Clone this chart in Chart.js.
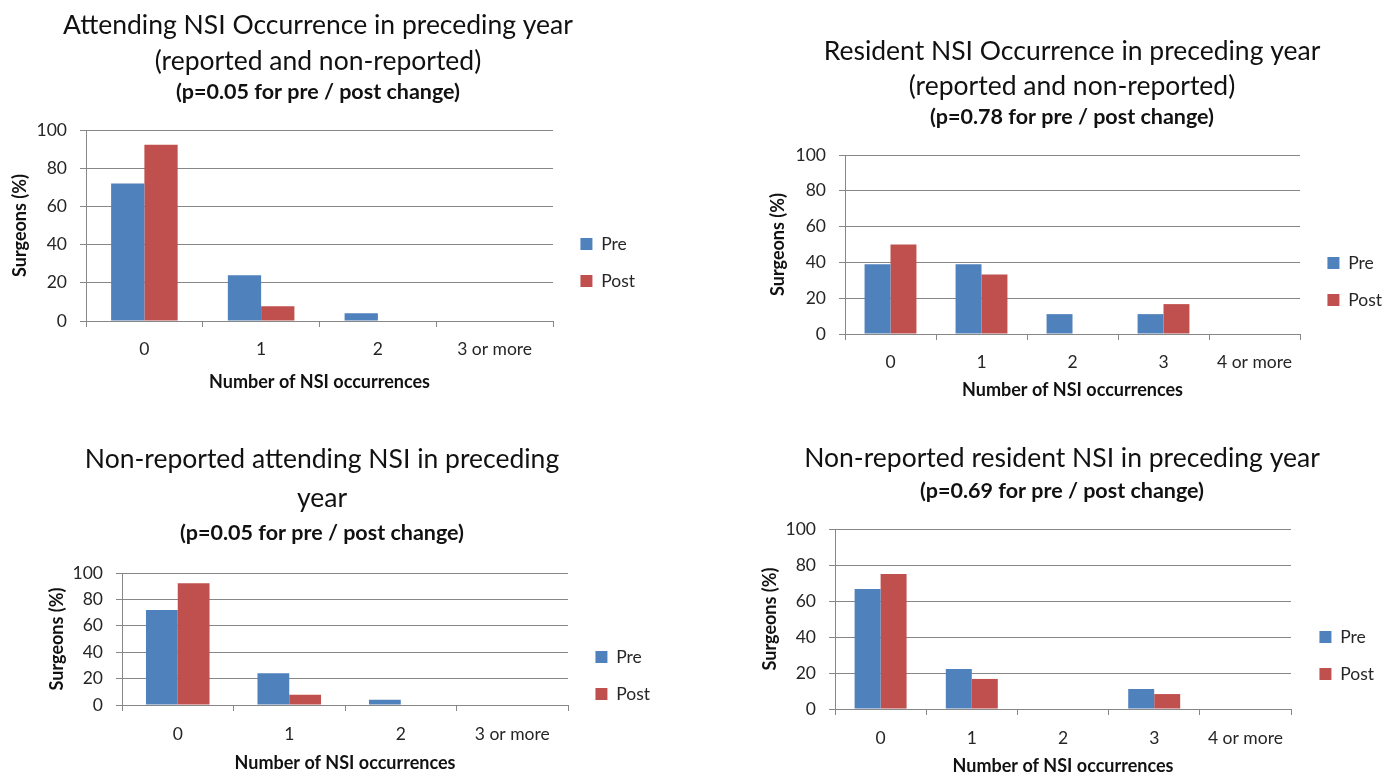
<!DOCTYPE html>
<html>
<head>
<meta charset="utf-8">
<title>NSI occurrence before and after</title>
<script src="https://cdn.jsdelivr.net/npm/chart.js@4.4.1/dist/chart.umd.min.js"></script>
<style>
  html, body { margin: 0; padding: 0; background: #ffffff; }
  #page { position: relative; width: 1384px; height: 774px; overflow: hidden; background: #ffffff; }
  #page canvas { position: absolute; }
</style>
</head>
<body>
<div id="page">
  <canvas id="attendingAll"></canvas>
  <canvas id="residentAll"></canvas>
  <canvas id="attendingNonReported"></canvas>
  <canvas id="residentNonReported"></canvas>
</div>
<script>
// Category labels (number of needle-stick injuries in the preceding year)
const attendingCategories = ['0', '1', '2', '3 or more'];
const residentCategories = ['0', '1', '2', '3', '4 or more'];

// Series labels
const seriesLabels = ['Pre', 'Post'];

// Surgeons (%) - attending, reported and non-reported
const attendingAllPre = [72, 24, 4, 0];
const attendingAllPost = [92.3, 7.7, 0, 0];

// Surgeons (%) - resident, reported and non-reported
const residentAllPre = [38.9, 38.9, 11.1, 11.1, 0];
const residentAllPost = [50, 33.3, 0, 16.7, 0];

// Surgeons (%) - attending, non-reported
const attendingNonRepPre = [72, 24, 4, 0];
const attendingNonRepPost = [92.3, 7.7, 0, 0];

// Surgeons (%) - resident, non-reported
const residentNonRepPre = [66.7, 22.2, 0, 11.1, 0];
const residentNonRepPost = [75, 16.7, 0, 8.3, 0];

// Value axis ticks
const yMin = 0, yMax = 100, yStep = 20;

// Text
const yAxisTitle = 'Surgeons (%)';
const xAxisTitle = 'Number of NSI occurrences';

const FONT = 'Lato';
const TITLE_SIZE = 26.5;
const P_SIZE = 21.5;
const TICK_SIZE = 17.5;
const AXIS_TITLE_SIZE = 18;
const LEGEND_SIZE = 17.5;
const PRE_COLOR = '#4F81BD';
const POST_COLOR = '#C0504D';
const AXIS_COLOR = '#878787';
const TEXT_COLOR = '#111111';
const TICK_COLOR = '#262626';

function textWidth(text, font) {
  const ctx = document.createElement('canvas').getContext('2d');
  ctx.font = font;
  return ctx.measureText(text).width;
}

// g: page geometry of one panel (plot box, text centres, legend position)
function buildPanel(id, categories, pre, post, titleLines, pText, g) {
  const box = 12, itemH = Math.max(LEGEND_SIZE, box), pad = 37 - itemH;
  const colW = box + LEGEND_SIZE / 2 +
    Math.max(...seriesLabels.map(t => textWidth(t, LEGEND_SIZE + 'px ' + FONT)));
  const legendW = pad + colW + 10;
  const right = g.sqL + colW + 10;
  const left = Math.round(2 * g.titleX - right);
  const width = Math.round(right - left);
  const LH = g.titleLH;
  const top = Math.round(g.title1Y - LH / 2);
  const titleBottom = top + titleLines.length * LH;
  const subLH = 26;
  const subTop = Math.max(0, g.pY - subLH / 2 - titleBottom);
  const subBottom = g.plotT - (titleBottom + subTop + subLH);
  const axisLH = AXIS_TITLE_SIZE * 1.2;
  const bottom = g.xTitleY + axisLH / 2 + 3;
  const height = Math.round(bottom - top);
  const yW = g.plotL - left;
  const xH = (top + height) - g.plotB;
  const gapW = Math.max(0, (left + width) - g.plotR - legendW);
  const yTitlePad = g.yTitleX - left - axisLH / 2;
  const legendTitleH = g.preY - top - pad - itemH / 2;
  const xTickPad = g.xLabelY - g.plotB - 6 - TICK_SIZE * 0.55;

  const canvas = document.getElementById(id);
  canvas.width = width;
  canvas.height = height;
  canvas.style.left = left + 'px';
  canvas.style.top = top + 'px';

  return new Chart(canvas, {
    type: 'bar',
    data: {
      labels: categories,
      datasets: [
        { label: seriesLabels[0], data: pre, backgroundColor: PRE_COLOR, borderWidth: 0 },
        { label: seriesLabels[1], data: post, backgroundColor: POST_COLOR, borderWidth: 0 }
      ]
    },
    options: {
      responsive: false,
      animation: false,
      events: [],
      layout: { padding: 0 },
      datasets: { bar: { categoryPercentage: 0.57, barPercentage: 1.0 } },
      scales: {
        x: {
          grid: { drawOnChartArea: false, drawTicks: true, tickLength: 6, color: AXIS_COLOR, lineWidth: 1 },
          border: { display: true, color: AXIS_COLOR, width: 1 },
          ticks: { color: TICK_COLOR, font: { family: FONT, size: TICK_SIZE }, padding: xTickPad, maxRotation: 0 },
          title: { display: true, text: xAxisTitle, color: TEXT_COLOR,
                   font: { family: FONT, size: AXIS_TITLE_SIZE, weight: 'bold' }, padding: { top: 0, bottom: 3 } },
          afterFit: s => { s.height = xH; }
        },
        y: {
          min: yMin, max: yMax,
          grid: { color: AXIS_COLOR, lineWidth: 1, drawTicks: true, tickLength: 6 },
          border: { display: true, color: AXIS_COLOR, width: 1 },
          ticks: { stepSize: yStep, color: TICK_COLOR, font: { family: FONT, size: TICK_SIZE }, padding: 13 },
          title: { display: true, text: yAxisTitle, color: TEXT_COLOR,
                   font: { family: FONT, size: AXIS_TITLE_SIZE, weight: 'bold' }, padding: { top: yTitlePad, bottom: 0 } },
          afterFit: s => { s.width = yW; }
        },
        legendGap: {
          axis: 'y', position: 'right', display: true,
          grid: { display: false }, ticks: { display: false }, border: { display: false },
          afterFit: s => { s.width = gapW; }
        }
      },
      plugins: {
        tooltip: { enabled: false },
        title: {
          display: true, text: titleLines, color: TEXT_COLOR,
          font: { family: FONT, size: TITLE_SIZE, weight: 'normal', lineHeight: LH + 'px' },
          padding: { top: 0, bottom: 0 }
        },
        subtitle: {
          display: true, text: pText, color: TEXT_COLOR,
          font: { family: FONT, size: P_SIZE, weight: 'bold', lineHeight: subLH + 'px' },
          padding: { top: subTop, bottom: subBottom }
        },
        legend: {
          display: true, position: 'right', align: 'start',
          title: { display: true, text: ' ', font: { size: 1, lineHeight: '1px' },
                   padding: { top: legendTitleH - 1, bottom: 0 } },
          labels: { boxWidth: box, boxHeight: box, padding: pad, color: TICK_COLOR,
                    font: { family: FONT, size: LEGEND_SIZE } }
        }
      }
    }
  });
}

buildPanel('attendingAll', attendingCategories, attendingAllPre, attendingAllPost,
  ['Attending NSI Occurrence in preceding year', '(reported and non-reported)'],
  '(p=0.05 for pre / post change)',
  { plotL: 86, plotR: 553, plotT: 130, plotB: 321, titleX: 318, title1Y: 25, titleLH: 36,
    pY: 92, yTitleX: 20, xLabelY: 348, xTitleY: 382, preY: 244, sqL: 580 });

buildPanel('residentAll', residentCategories, residentAllPre, residentAllPost,
  ['Resident NSI Occurrence in preceding year', '(reported and non-reported)'],
  '(p=0.78 for pre / post change)',
  { plotL: 845, plotR: 1300, plotT: 155, plotB: 334, titleX: 1072, title1Y: 51, titleLH: 35,
    pY: 116, yTitleX: 778, xLabelY: 361, xTitleY: 390, preY: 263, sqL: 1327 });

buildPanel('attendingNonReported', attendingCategories, attendingNonRepPre, attendingNonRepPost,
  ['Non-reported attending NSI in preceding', 'year'],
  '(p=0.05 for pre / post change)',
  { plotL: 122, plotR: 568, plotT: 573, plotB: 705, titleX: 322, title1Y: 459, titleLH: 39,
    pY: 533, yTitleX: 57, xLabelY: 733, xTitleY: 763, preY: 657, sqL: 595 });

buildPanel('residentNonReported', residentCategories, residentNonRepPre, residentNonRepPost,
  ['Non-reported resident NSI in preceding year'],
  '(p=0.69 for pre / post change)',
  { plotL: 835, plotR: 1291, plotT: 529, plotB: 709, titleX: 1062, title1Y: 458, titleLH: 35,
    pY: 491, yTitleX: 770, xLabelY: 737, xTitleY: 766, preY: 637, sqL: 1319 });
</script>
</body>
</html>
